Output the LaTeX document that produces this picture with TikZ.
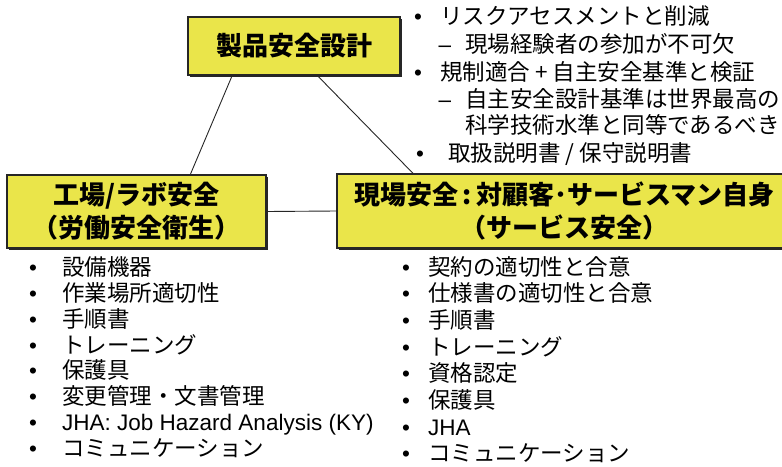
\documentclass[tikz,border=0pt]{standalone}
\usepackage{fontspec}
\setmainfont{Noto Sans CJK JP}
\newfontfamily\lat{Liberation Sans}
\usetikzlibrary{shadows,calc}
\definecolor{boxyellow}{RGB}{234,229,74}
\tikzset{
  ybox/.style={draw=black!85, line width=1.3pt, fill=boxyellow,
    drop shadow={shadow xshift=2pt, shadow yshift=-2pt, opacity=1, fill=black!85},
    inner sep=0pt, align=center, font=\fontsize{26}{33}\selectfont\bfseries},
  itemtxt/.style={anchor=base west, inner sep=0pt, font=\fontsize{22.5}{27}\selectfont},
  bul/.style={anchor=base, inner sep=0pt, text depth=0pt, font=\lat\fontsize{22.5}{27}\selectfont},
  link/.style={draw=black!85, line width=0.9pt}
}
\begin{document}
\begin{tikzpicture}[x=1pt,y=-1pt]
\useasboundingbox (0,0) rectangle (782,466);
% boxes
\node[ybox, minimum width=212pt, minimum height=58pt] (top) at (294,46) {製品安全設計};
\node[ybox, minimum width=259pt, minimum height=73pt] (left) at (136.5,211.5) {工場/ラボ安全\\（労働安全衛生）};
\node[ybox, minimum width=455pt, minimum height=74pt] (right) at (564.5,211) {現場安全\,:\,対顧客･サービスマン自身\\（サービス安全）};
% connectors
\draw[link] ($(top.south west)!0.21!(top.south east)$) -- ($(left.north west)!0.707!(left.north east)$);
\draw[link] ($(top.south west)!0.61!(top.south east)$) -- ($(right.north west)!0.168!(right.north east)$);
\draw[link] (left.east) -- (right.west);
% top right list
\node[bul] (tb1) at (418,24.5) {•};
\node[itemtxt] (t1) at (440,24.5) {リスクアセスメントと削減};
\node[bul] (td2) at (445,52.5) {–};
\node[itemtxt] (t2) at (465,52.5) {現場経験者の参加が不可欠};
\node[bul] (tb3) at (418,80.5) {•};
\node[itemtxt] (t3) at (440,80.5) {規制適合 + 自主安全基準と検証};
\node[bul] (td4) at (445,107.5) {–};
\node[itemtxt] (t4) at (465,107.5) {自主安全設計基準は世界最高の};
\node[itemtxt] (t5) at (465,133.5) {科学技術水準と同等であるべき};
\node[bul] (tb6) at (420,161) {•};
\node[itemtxt] (t6) at (448,161) {取扱説明書 / 保守説明書};
% left list
\foreach \i/\txt in {0/設備機器,1/作業場所適切性,2/手順書,3/トレーニング,4/保護具,5/変更管理・文書管理,6/{\lat JHA: Job Hazard Analysis (KY)},7/コミュニケーション}{
  \node[bul] (lb\i) at (33,{275.5+25.86*\i}) {•};
  \node[itemtxt] (l\i) at (62,{275.5+25.86*\i}) {\txt};
}
% right list
\foreach \i/\txt in {0/契約の適切性と合意,1/仕様書の適切性と合意,2/手順書,3/トレーニング,4/資格認定,5/保護具,6/{\lat JHA},7/コミュニケーション}{
  \node[bul] (rb\i) at (406,{275+26.7*\i}) {•};
  \node[itemtxt] (r\i) at (428,{275+26.7*\i}) {\txt};
}
\end{tikzpicture}
\end{document}
